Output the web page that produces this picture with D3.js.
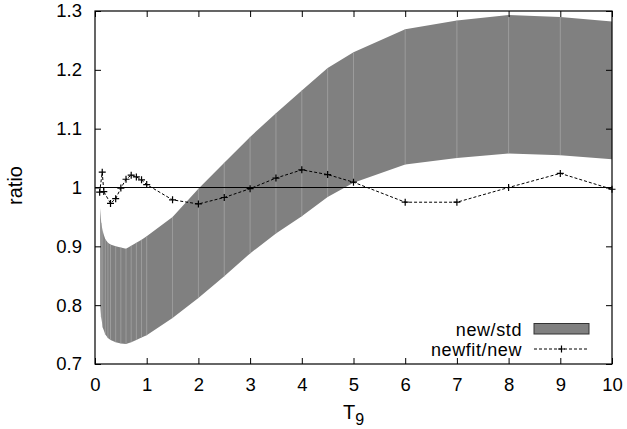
<!DOCTYPE html>
<html>
<head>
<meta charset="utf-8">
<script src="https://cdn.jsdelivr.net/npm/d3@7"></script>
<style>
  body { margin: 0; background: #fff; }
  text { font-family: "Liberation Sans", Arial, sans-serif; }
</style>
</head>
<body>
<svg id="chart" width="627" height="429"></svg>
<script>
// band: new/std (lower and upper edge)
var bandT     = [0.1, 0.12, 0.15, 0.2, 0.25, 0.3, 0.4, 0.5, 0.6, 0.7, 0.8, 0.9, 1.0, 1.5, 2, 2.5, 3, 3.5, 4, 4.5, 5, 6, 7, 8, 9, 10];
var bandLower = [0.80, 0.78, 0.762, 0.75, 0.744, 0.741, 0.737, 0.735, 0.734, 0.737, 0.741, 0.745, 0.749, 0.778, 0.812, 0.849, 0.888, 0.922, 0.951, 0.984, 1.008, 1.039, 1.05, 1.058, 1.055, 1.048];
var bandUpper = [0.965, 0.94, 0.925, 0.912, 0.906, 0.903, 0.9, 0.898, 0.896, 0.901, 0.906, 0.911, 0.917, 0.95, 0.998, 1.042, 1.086, 1.126, 1.165, 1.203, 1.23, 1.269, 1.284, 1.293, 1.29, 1.282];

// line: newfit/new
var fitT   = [0.09, 0.14, 0.17, 0.3, 0.4, 0.5, 0.6, 0.7, 0.8, 0.9, 1.0, 1.5, 2, 2.5, 3, 3.5, 4, 4.5, 5, 6, 7, 8, 9, 10];
var fitVal = [0.992, 1.026, 0.993, 0.973, 0.981, 0.999, 1.014, 1.021, 1.018, 1.013, 1.005, 0.979, 0.972, 0.983, 0.998, 1.016, 1.03, 1.022, 1.009, 0.975, 0.975, 1.0, 1.024, 0.997];

var xTicks = [0, 1, 2, 3, 4, 5, 6, 7, 8, 9, 10];
var yTicks = [0.7, 0.8, 0.9, 1.0, 1.1, 1.2, 1.3];

var W = 627, H = 429;
var margin = {left: 95, right: 15, top: 11, bottom: 65};

var svg = d3.select("#chart");

var x = d3.scaleLinear().domain([0, 10]).range([margin.left, W - margin.right]);
var y = d3.scaleLinear().domain([0.7, 1.3]).range([H - margin.bottom, margin.top]);

var band = bandT.map(function(t, i) { return {t: t, lo: bandLower[i], hi: bandUpper[i]}; });
var fit = fitT.map(function(t, i) { return {t: t, v: fitVal[i]}; });

// filled band
svg.append("path")
    .datum(band)
    .attr("fill", "#808080")
    .attr("d", d3.area()
      .x(function(d) { return x(d.t); })
      .y0(function(d) { return y(d.lo); })
      .y1(function(d) { return y(d.hi); }));

// faint seams at each sample, like the gnuplot render
svg.append("g").selectAll("line")
    .data(band.slice(1, -1))
    .join("line")
    .attr("x1", function(d) { return x(d.t); })
    .attr("x2", function(d) { return x(d.t); })
    .attr("y1", function(d) { return y(d.lo); })
    .attr("y2", function(d) { return y(d.hi); })
    .attr("stroke", "#a8a8a8")
    .attr("stroke-width", 0.7);

// y = 1 reference line
svg.append("line")
    .attr("x1", x(0)).attr("x2", x(10))
    .attr("y1", y(1)).attr("y2", y(1))
    .attr("stroke", "#000")
    .attr("stroke-width", 1);

// dashed fit line
svg.append("path")
    .datum(fit)
    .attr("fill", "none")
    .attr("stroke", "#000")
    .attr("stroke-width", 1)
    .attr("stroke-dasharray", "3,2")
    .attr("d", d3.line()
      .x(function(d) { return x(d.t); })
      .y(function(d) { return y(d.v); }));

function plus(sel, s) {
  sel.append("path")
    .attr("d", "M" + (-s) + ",0H" + s + "M0," + (-s) + "V" + s)
    .attr("stroke", "#000")
    .attr("stroke-width", 1.2)
    .attr("fill", "none");
}

svg.append("g").selectAll("g")
    .data(fit)
    .join("g")
    .attr("transform", function(d) { return "translate(" + x(d.t) + "," + y(d.v) + ")"; })
    .call(plus, 3.5);

// axes with inward ticks on all four sides
var tl = 6;
var gx = svg.append("g")
    .attr("transform", "translate(0," + (H - margin.bottom) + ")")
    .call(d3.axisBottom(x).tickValues(xTicks).tickSize(-tl).tickPadding(14).tickFormat(d3.format("d")));
var gxt = svg.append("g")
    .attr("transform", "translate(0," + margin.top + ")")
    .call(d3.axisTop(x).tickValues(xTicks).tickSize(-tl).tickFormat(""));
var gy = svg.append("g")
    .attr("transform", "translate(" + margin.left + ",0)")
    .call(d3.axisLeft(y).tickValues(yTicks).tickSize(-tl).tickPadding(13)
      .tickFormat(function(d) { return d === 1 ? "1" : d3.format(".1f")(d); }));
var gyr = svg.append("g")
    .attr("transform", "translate(" + (W - margin.right) + ",0)")
    .call(d3.axisRight(y).tickValues(yTicks).tickSize(-tl).tickFormat(""));

[gx, gxt, gy, gyr].forEach(function(g) {
  g.select(".domain").remove();
  g.selectAll(".tick line").attr("stroke", "#000");
  g.selectAll(".tick text")
    .attr("fill", "#000")
    .style("font-size", "18.5px")
    .style("font-family", "'Liberation Sans', Arial, sans-serif");
});

// border
svg.append("rect")
    .attr("x", x(0)).attr("y", y(1.3))
    .attr("width", x(10) - x(0))
    .attr("height", y(0.7) - y(1.3))
    .attr("fill", "none")
    .attr("stroke", "#000")
    .attr("stroke-width", 1.2);

// axis titles
svg.append("text")
    .attr("transform", "translate(22," + (y(1.0) - 2) + ") rotate(-90)")
    .attr("text-anchor", "middle")
    .style("font-size", "20px")
    .text("ratio");

var xt = svg.append("text")
    .attr("x", x(5))
    .attr("y", 419)
    .attr("text-anchor", "middle")
    .style("font-size", "20px");
xt.append("tspan").text("T");
xt.append("tspan").attr("dy", 6).style("font-size", "16px").text("9");

// legend
var lgX = 522, swX = 534, swW = 55;
svg.append("text").attr("x", lgX).attr("y", 335.5).attr("text-anchor", "end")
    .style("font-size", "18px").style("letter-spacing", "0.6px").text("new/std");
svg.append("rect")
    .attr("x", swX).attr("y", 323.5).attr("width", swW).attr("height", 10.5)
    .attr("fill", "#808080").attr("stroke", "#333").attr("stroke-width", 1);

svg.append("text").attr("x", lgX).attr("y", 355.5).attr("text-anchor", "end")
    .style("font-size", "18px").style("letter-spacing", "0.6px").text("newfit/new");
svg.append("line")
    .attr("x1", swX).attr("x2", swX + swW)
    .attr("y1", 349).attr("y2", 349)
    .attr("stroke", "#000").attr("stroke-width", 1).attr("stroke-dasharray", "3,2");
svg.append("g")
    .attr("transform", "translate(" + (swX + swW / 2) + ",349)")
    .call(plus, 3.5);
</script>
</body>
</html>
